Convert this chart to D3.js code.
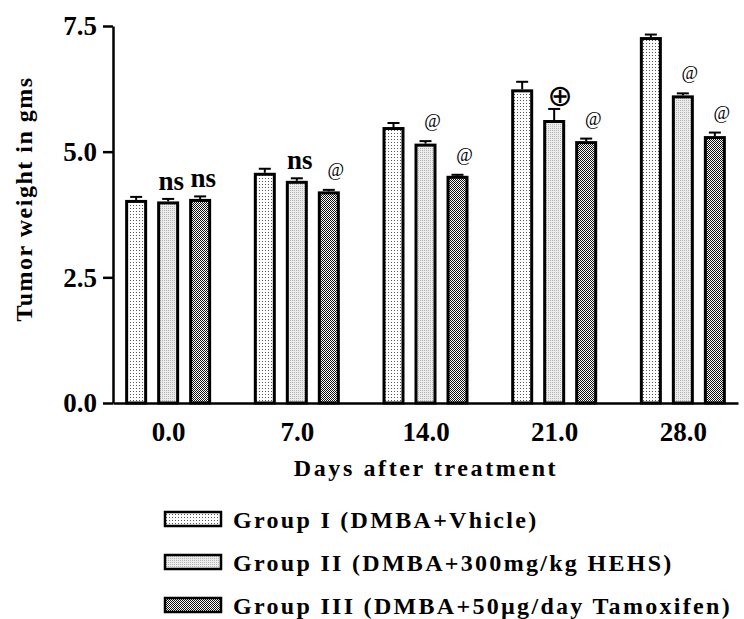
<!DOCTYPE html>
<html><head><meta charset="utf-8">
<script src="https://cdn.jsdelivr.net/npm/d3@7"></script>
<style>
html,body{margin:0;padding:0;background:#fff;}
svg{display:block;}
text{font-family:"Liberation Serif","Times New Roman",serif;}
</style></head>
<body><svg id="c" width="744" height="619"></svg>
<script>
// ---- data ----
const days = [0, 7, 14, 21, 28];
const dayLabels = ["0.0", "7.0", "14.0", "21.0", "28.0"];
const groups = ["Group I (DMBA+Vhicle)", "Group II (DMBA+300mg/kg HEHS)", "Group III (DMBA+50µg/day Tamoxifen)"];
const group1 = [4.04, 4.58, 5.49, 6.24, 7.28];
const group2 = [4.01, 4.42, 5.16, 5.63, 6.12];
const group3 = [4.06, 4.21, 4.52, 5.21, 5.31];
const sem1 = [0.06, 0.08, 0.08, 0.15, 0.05];
const sem2 = [0.05, 0.05, 0.05, 0.22, 0.04];
const sem3 = [0.05, 0.03, 0.02, 0.05, 0.07];
const marks1 = ["", "", "", "", ""];
const marks2 = ["ns", "ns", "@", "⊕", "@"];
const marks3 = ["ns", "@", "@", "@", "@"];
const yTicks = [0, 2.5, 5, 7.5];

const series = [
  {name: groups[0], values: group1, sem: sem1, marks: marks1},
  {name: groups[1], values: group2, sem: sem2, marks: marks2},
  {name: groups[2], values: group3, sem: sem3, marks: marks3}
];

const svg = d3.select("#c");

// patterns
const defs = svg.append("defs");
const p1 = defs.append("pattern").attr("id","pat0").attr("patternUnits","userSpaceOnUse").attr("width",3).attr("height",3);
p1.append("rect").attr("width",3).attr("height",3).attr("fill","#fff");
p1.append("rect").attr("x",1).attr("y",1).attr("width",1).attr("height",1).attr("fill","#555");
const p2 = defs.append("pattern").attr("id","pat1").attr("patternUnits","userSpaceOnUse").attr("width",2).attr("height",2);
p2.append("rect").attr("width",2).attr("height",2).attr("fill","#ececec");
p2.append("rect").attr("width",1).attr("height",1).attr("fill","#b4b4b4");
const p3 = defs.append("pattern").attr("id","pat2").attr("patternUnits","userSpaceOnUse").attr("width",2).attr("height",2);
p3.append("rect").attr("width",2).attr("height",2).attr("fill","#fff");
p3.append("rect").attr("width",1).attr("height",1).attr("fill","#111");
p3.append("rect").attr("x",1).attr("y",1).attr("width",1).attr("height",1).attr("fill","#111");

// scales
const x = d3.scaleLinear().domain([-3, 31]).range([113, 738]);
const sub = d3.scaleBand().domain([0,1,2]).range([-48, 48]).paddingInner(0.3125).paddingOuter(0.15625);
const y = d3.scaleLinear().domain([0, 7.5]).range([403, 26]);

// axes
const yAxis = d3.axisLeft(y).tickValues(yTicks).tickFormat(d3.format(".1f")).tickSize(10).tickSizeOuter(0).tickPadding(6);
const gy = svg.append("g").attr("transform","translate(113,0)").call(yAxis);
gy.select(".domain").attr("stroke","#000").attr("stroke-width",2.5);
gy.selectAll(".tick line").attr("stroke","#000").attr("stroke-width",2.5);
gy.selectAll(".tick text").attr("font-family","Liberation Serif, Times New Roman, serif")
  .attr("font-weight","bold").attr("font-size",27).attr("fill","#000").attr("dy","0.33em");

// bars
series.forEach((s, si) => {
  const g = svg.append("g");
  days.forEach((d, i) => {
    const cx = x(d) + sub(si) + sub.bandwidth()/2;
    const v = s.values[i], e = s.sem[i];
    // error bar
    g.append("line").attr("x1",cx).attr("x2",cx).attr("y1",y(v)).attr("y2",y(v+e)).attr("stroke","#000").attr("stroke-width",2);
    g.append("line").attr("x1",cx-6).attr("x2",cx+6).attr("y1",y(v+e)).attr("y2",y(v+e)).attr("stroke","#000").attr("stroke-width",2);
    g.append("rect")
      .attr("x", x(d) + sub(si) + 1.5)
      .attr("y", y(v) + 1.5)
      .attr("width", sub.bandwidth() - 3)
      .attr("height", y(0) - y(v) - 1.5)
      .attr("fill", `url(#pat${si})`)
      .attr("stroke","#000").attr("stroke-width",3);
    const m = s.marks[i];
    if (m === "ns") {
      g.append("text").attr("x", cx + 3).attr("y", y(v+e) - 9).attr("text-anchor","middle")
        .attr("font-weight","bold").attr("font-size",27).text(m);
    } else if (m === "@") {
      g.append("text").attr("x", cx + 7).attr("y", y(v+e) - 14).attr("text-anchor","middle")
        .attr("font-size",18).text(m);
    } else if (m === "⊕") {
      g.append("text").attr("x", cx + 6).attr("y", y(v+e) - 3).attr("text-anchor","middle")
        .style("font-family","DejaVu Sans").attr("font-size",30).text(m);
    }
  });
});

// x axis
const xAxis = d3.axisBottom(x).tickValues(days).tickFormat((d,i)=>dayLabels[i]).tickSize(0).tickSizeOuter(0).tickPadding(19);
const gx = svg.append("g").attr("transform","translate(0,403)").call(xAxis);
gx.select(".domain").attr("stroke","#000").attr("stroke-width",2.5);
gx.selectAll(".tick text").attr("font-family","Liberation Serif, Times New Roman, serif")
  .attr("font-weight","bold").attr("font-size",27).attr("fill","#000");

// axis titles
svg.append("text").attr("x", 426).attr("y", 476).attr("text-anchor","middle")
  .attr("font-weight","bold").attr("font-size",24).attr("letter-spacing","2.6px").text("Days after treatment");
svg.append("text").attr("transform","translate(32,199) rotate(-90)").attr("text-anchor","middle")
  .attr("font-weight","bold").attr("font-size",24).attr("letter-spacing","1.5px").text("Tumor weight in gms");

// legend
const leg = svg.append("g");
series.forEach((s, si) => {
  const yy = 519 + si * 43;
  leg.append("rect").attr("x",165).attr("y",yy-7).attr("width",56).attr("height",14)
    .attr("fill",`url(#pat${si})`).attr("stroke","#000").attr("stroke-width",2.5);
  leg.append("text").attr("x",233).attr("y",yy+8.5).attr("font-weight","bold").attr("font-size",24)
    .attr("letter-spacing","2.3px").text(s.name);
});
</script></body></html>
